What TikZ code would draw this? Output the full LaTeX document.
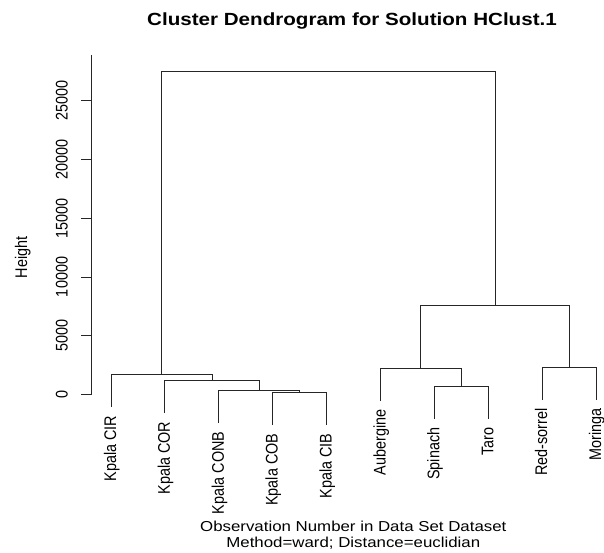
\documentclass[tikz,border=0pt]{standalone}
\usepackage{fontspec}
\setmainfont{Liberation Sans}
\usepackage{graphicx}

% R-style text: slightly widened Arial-metric glyphs
\newcommand\wide[1]{\scalebox{1.17}[1]{#1}}
\newcommand\tall[1]{\scalebox{1}[1.17]{#1}}
\newcommand\lblfont{\fontsize{14.4}{17}\selectfont}
\newcommand\ttlfont{\fontsize{17.6}{21}\selectfont\bfseries}
\newcommand\joinpair[3]{\draw[link] (#1) -- (#1 |- #3) -- (#2 |- #3) -- (#2);}

\begin{document}
\begin{tikzpicture}[x=1pt,y=-1pt,
  link/.style={draw=black!85, line width=0.9pt},
  axisline/.style={draw=black!85, line width=0.9pt},
  leaflabel/.style={rotate=90, anchor=base east, inner sep=0pt, font=\lblfont},
  ticklabel/.style={rotate=90, anchor=base, inner sep=0pt, font=\lblfont},
  hlabel/.style={anchor=base, inner sep=0pt, font=\lblfont}]
\useasboundingbox (0,0) rectangle (604,553);

% title
\node[anchor=base, inner sep=0pt, font=\ttlfont] (title) at (352,26)
  {\wide{Cluster Dendrogram for Solution HClust.1}};

% y axis
\coordinate (axbot) at (91.7,394.5);
\coordinate (axtop) at (91.7,55);
\draw[axisline] (axtop) -- (axbot);
\foreach \k/\v in {0/0,1/5000,2/10000,3/15000,4/20000,5/25000}{
  \coordinate (tk\k) at (91.7,{394.5-58.76*\k});
  \draw[axisline] (tk\k) -- ++(-10.7,0);
  \node[ticklabel] (tl\k) at ([xshift=-24pt]tk\k) {\tall{\v}};
}
\node[ticklabel] (ylab) at (27,257.5) {\tall{Height}};

% leaves (lower ends of the hanging branches)
\coordinate (l1)  at (111.0,407.0);
\coordinate (l2)  at (164.9,413.0);
\coordinate (l3)  at (218.8,423.0);
\coordinate (l4)  at (272.7,425.0);
\coordinate (l5)  at (326.6,425.0);
\coordinate (l6)  at (380.5,401.0);
\coordinate (l7)  at (434.4,419.0);
\coordinate (l8)  at (488.3,419.0);
\coordinate (l9)  at (542.2,400.0);
\coordinate (l10) at (596.1,400.0);

% merge points
\coordinate (m1) at (299.7,392.7);
\coordinate (m2) at (259.2,390.7);
\coordinate (m3) at (212.1,380.7);
\coordinate (m4) at (161.5,374.7);
\coordinate (m5) at (461.3,386.7);
\coordinate (m6) at (420.9,368.7);
\coordinate (m7) at (569.2,367.7);
\coordinate (m8) at (495.0,305.7);
\coordinate (m9) at (328.3,71.0);

\joinpair{l4}{l5}{m1}
\joinpair{l3}{m1}{m2}
\joinpair{l2}{m2}{m3}
\joinpair{l1}{m3}{m4}
\joinpair{l7}{l8}{m5}
\joinpair{l6}{m5}{m6}
\joinpair{l9}{l10}{m7}
\joinpair{m6}{m7}{m8}
\joinpair{m4}{m8}{m9}

% leaf labels
\foreach \i/\t in {1/Kpala CIR,2/Kpala COR,3/Kpala CONB,4/Kpala COB,5/Kpala CIB,
                   6/Aubergine,7/Spinach,8/Taro,9/Red-sorrel,10/Moringa}{
  \path (l\i) ++(5,8.5) node[leaflabel] (t\i) {\tall{\t}};
}

% x axis caption
\node[hlabel] (xlab1) at (353.3,531) {\wide{Observation Number in Data Set Dataset}};
\node[hlabel] (xlab2) at (353.3,547.3) {\wide{Method=ward; Distance=euclidian}};
\end{tikzpicture}
\end{document}
